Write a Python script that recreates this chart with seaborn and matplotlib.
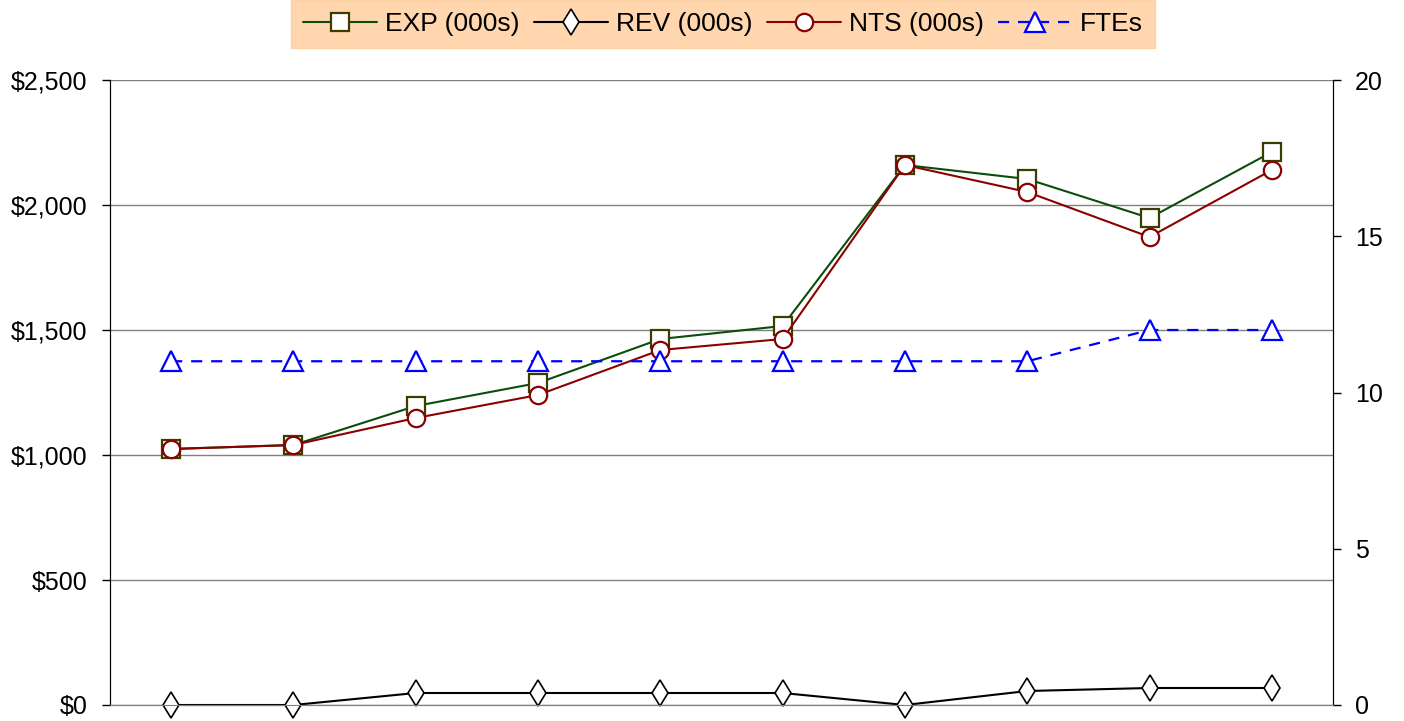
import numpy as np
import pandas as pd
import matplotlib
matplotlib.use("Agg")
import matplotlib.pyplot as plt
import seaborn as sns
from matplotlib.ticker import FuncFormatter

# Datos (10 periodos, sin etiquetas en x)
periods = list(range(10))
exp_k = [1024, 1040, 1196, 1288, 1464, 1516, 2160, 2104, 1948, 2212]
rev_k = [0, 0, 48, 48, 48, 48, 0, 56, 68, 68]
nts_k = [1024, 1040, 1148, 1240, 1420, 1464, 2160, 2052, 1872, 2140]
ftes = [11, 11, 11, 11, 11, 11, 11, 11, 12, 12]

df = pd.DataFrame({"period": periods, "EXP": exp_k, "REV": rev_k, "NTS": nts_k, "FTEs": ftes})

sns.set_style("white")
plt.rcParams["font.family"] = ["Liberation Sans", "DejaVu Sans"]
plt.rcParams["text.color"] = "black"
plt.rcParams["ytick.color"] = "black"

fig = plt.figure(figsize=(14.04, 7.21), dpi=100)
ax = fig.add_axes([110 / 1404, 1 - 705 / 721, (1333 - 110) / 1404, (705 - 80) / 721])
ax2 = ax.twinx()

ms = 12.5
sns.lineplot(data=df, x="period", y="EXP", ax=ax, color="#0b4d0b", lw=1.5,
             marker="s", markersize=ms, markerfacecolor="white", markeredgecolor="#3d3d00",
             markeredgewidth=1.6, label="EXP (000s)", legend=False, zorder=4, clip_on=False)
sns.lineplot(data=df, x="period", y="REV", ax=ax, color="black", lw=1.5,
             marker="d", markersize=ms + 1, markerfacecolor="white", markeredgecolor="black",
             markeredgewidth=1.2, label="REV (000s)", legend=False, zorder=4, clip_on=False)
sns.lineplot(data=df, x="period", y="NTS", ax=ax, color="#8b0000", lw=1.5,
             marker="o", markersize=ms, markerfacecolor="white", markeredgecolor="#8b0000",
             markeredgewidth=1.6, label="NTS (000s)", legend=False, zorder=5, clip_on=False)
sns.lineplot(data=df, x="period", y="FTEs", ax=ax2, color="#0000ff", lw=1.6,
             linestyle=(0, (5, 4)), marker="^", markersize=ms + 1.5, markerfacecolor="white",
             markeredgecolor="#0000ff", markeredgewidth=1.6, label="FTEs", legend=False,
             zorder=4, clip_on=False)

ax.set_xlim(-0.5, 9.5)
ax.set_ylim(0, 2500)
ax.set_yticks(np.arange(0, 2501, 500))
ax.yaxis.set_major_formatter(FuncFormatter(lambda v, p: f"${v:,.0f}"))
ax.grid(axis="y", color="#808080", lw=1)
ax.set_xticks([])
ax.set_xlabel("")
ax.set_ylabel("")
ax2.set_ylim(0, 20)
ax2.set_yticks([0, 5, 10, 15, 20])
ax2.set_ylabel("")
ax2.grid(False)

for a in (ax, ax2):
    a.tick_params(axis="y", labelsize=18, length=6, width=1, color="black",
                  direction="out", pad=10, labelcolor="black")
    a.spines["top"].set_visible(False)
    a.spines["bottom"].set_color("#808080")
    a.spines["left"].set_color("black")
    a.spines["right"].set_color("black")
ax.tick_params(axis="y", left=True, right=False)
ax2.tick_params(axis="y", right=True, left=False)

h1, l1 = ax.get_legend_handles_labels()
h2, l2 = ax2.get_legend_handles_labels()
leg = fig.legend(h1 + h2, l1 + l2, loc="upper center", bbox_to_anchor=(723 / 1404, 1.0),
                 ncol=4, frameon=True, fontsize=19, handlelength=2.8, handletextpad=0.3,
                 columnspacing=0.55, borderpad=0.45, borderaxespad=0, fancybox=False)
leg.get_frame().set_facecolor("#ffcc99")
leg.get_frame().set_edgecolor("#ffcc99")

plt.savefig("out.png", dpi=100)
